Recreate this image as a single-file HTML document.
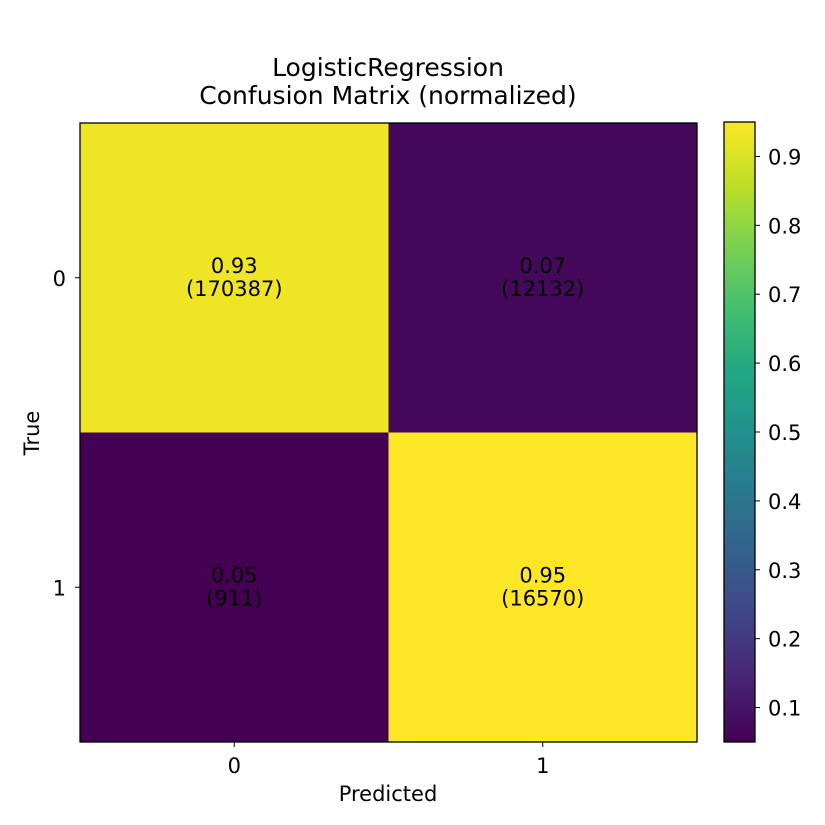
<!DOCTYPE html>
<html><head><meta charset="utf-8"><style>
html,body{margin:0;padding:0;background:#fff;}
svg{display:block;font-family:"DejaVu Sans","Liberation Sans",sans-serif;}
</style></head><body>
<svg id="chart" width="825" height="825" viewBox="0 0 825 825">
<defs>
<linearGradient id="vir" x1="0" y1="1" x2="0" y2="0">
<stop offset="0" stop-color="#440154"/><stop offset="0.1" stop-color="#482475"/>
<stop offset="0.2" stop-color="#414487"/><stop offset="0.3" stop-color="#355f8d"/>
<stop offset="0.4" stop-color="#2a788e"/><stop offset="0.5" stop-color="#21918c"/>
<stop offset="0.6" stop-color="#22a884"/><stop offset="0.7" stop-color="#44bf70"/>
<stop offset="0.8" stop-color="#7ad151"/><stop offset="0.9" stop-color="#bddf26"/>
<stop offset="1" stop-color="#fde725"/>
</linearGradient>
</defs>
<text x="388" y="76" text-anchor="middle" font-size="25">LogisticRegression</text>
<text x="388" y="104" text-anchor="middle" font-size="25">Confusion Matrix (normalized)</text>
<g id="cells"></g>
<rect x="80" y="123" width="617" height="619" fill="none" stroke="#000" stroke-width="1.3"/>
<g id="axes"></g>
<text x="388" y="801" text-anchor="middle" font-size="21">Predicted</text>
<text transform="translate(39,433) rotate(-90)" text-anchor="middle" font-size="21">True</text>
<rect x="724" y="122" width="31" height="620" fill="url(#vir)" stroke="#000" stroke-width="1.3"/>
<g id="cbticks"></g>
</svg>
<script>
const classes = ["0","1"];
const normValues = [[0.93,0.07],[0.05,0.95]];
const counts = [[170387,12132],[911,16570]];
const cbTicks = [0.1,0.2,0.3,0.4,0.5,0.6,0.7,0.8,0.9];
const vmin = 0.05, vmax = 0.95;
const NS="http://www.w3.org/2000/svg";
const X0=80,X1=697,Y0=123,Y1=742,CB0=122,CB1=742;
const vir=["#440154","#482475","#414487","#355f8d","#2a788e","#21918c","#22a884","#44bf70","#7ad151","#bddf26","#fde725"];
function hex(h){return [1,3,5].map(i=>parseInt(h.substr(i,2),16));}
function color(v){let t=Math.max(0,Math.min(1,(v-vmin)/(vmax-vmin)))*10;let i=Math.min(9,Math.floor(t)),f=t-i;
const a=hex(vir[i]),b=hex(vir[i+1]);return "rgb("+a.map((c,k)=>Math.round(c+(b[k]-c)*f)).join(",")+")";}
const n=classes.length,cw=(X1-X0)/n,ch=(Y1-Y0)/n;
const xs=j=>X0+cw*(j+0.5), ys=i=>Y0+ch*(i+0.5);
const cb=v=>CB1-(v-vmin)/(vmax-vmin)*(CB1-CB0);
function mk(tag,attrs,parent,txt){const e=document.createElementNS(NS,tag);for(const k in attrs)e.setAttribute(k,attrs[k]);if(txt!==undefined)e.textContent=txt;document.getElementById(parent).appendChild(e);return e;}
for(let i=0;i<n;i++)for(let j=0;j<n;j++){
 const r=mk("rect",{x:X0+cw*j,y:Y0+ch*i,width:cw+0.5,height:ch+0.5,fill:color(normValues[i][j])},"cells");
 
 
 const t1=mk("text",{x:xs(j),y:ys(i)-5,"text-anchor":"middle","font-size":"21"},"cells",normValues[i][j].toFixed(2));
 
 
 const t2=mk("text",{x:xs(j),y:ys(i)+18,"text-anchor":"middle","font-size":"21"},"cells","("+counts[i][j]+")");
 
 
}
classes.forEach((c,k)=>{
 mk("line",{x1:xs(k),x2:xs(k),y1:Y1,y2:Y1+5,stroke:"#000"},"axes");
 const tx=mk("text",{x:xs(k),y:Y1+31,"text-anchor":"middle","font-size":"21"},"axes",c);
 
 
 mk("line",{x1:X0-5,x2:X0,y1:ys(k),y2:ys(k),stroke:"#000"},"axes");
 const ty=mk("text",{x:X0-14,y:ys(k)+8,"text-anchor":"end","font-size":"21"},"axes",c);
 
 
});
cbTicks.forEach(v=>{
 mk("line",{x1:755,x2:760,y1:cb(v),y2:cb(v),stroke:"#000"},"cbticks");
 const t=mk("text",{x:768,y:cb(v)+8,"font-size":"21"},"cbticks",v.toFixed(1));
 
 
});
</script>
</body></html>
